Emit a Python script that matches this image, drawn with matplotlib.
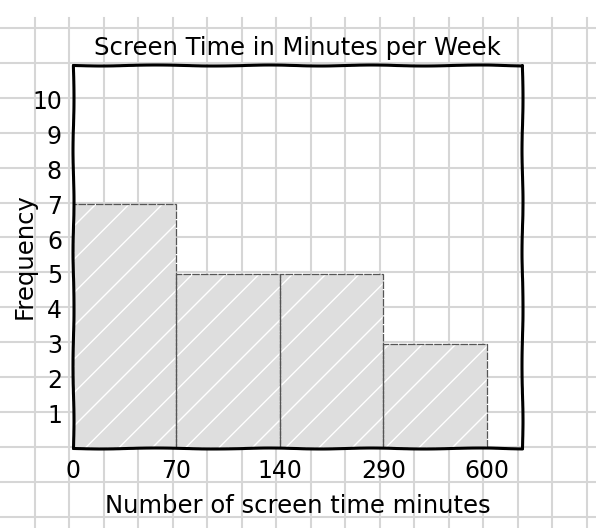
import numpy as np
import matplotlib
matplotlib.use('Agg')
import matplotlib.pyplot as plt

# data: equal-width bins, labelled at their edges
bin_edges = ['0', '70', '140', '290', '600']
frequency = [7, 5, 5, 3]
y_ticks = [1, 2, 3, 4, 5, 6, 7, 8, 9, 10]

plt.rcParams['font.family'] = ['DejaVu Sans']

W, H = 596, 528
fig = plt.figure(figsize=(W / 100, H / 100), dpi=100)

# graph paper background, in pixel units
bg = fig.add_axes([0, 0, 1, 1], zorder=0)
bg.set_xlim(0, W)
bg.set_ylim(H, 0)
bg.axis('off')
grid_top = 18
for x in np.arange(34.5, W, 34.5):
    bg.plot([x, x], [grid_top, H], color='#d6d6d6', lw=1.5)
for y in np.arange(28, H, 34.9):
    bg.plot([0, W], [y, y], color='#d6d6d6', lw=1.5)

# chart area
ax = fig.add_axes([73 / W, 1 - 448 / H, (522 - 73) / W, (448 - 65) / H], zorder=1)
ax.patch.set_alpha(0)
pos = np.arange(len(frequency))
# fill with white hachure, then a thin sketchy outline
ax.bar(pos, frequency, width=1, align='edge', color='#dedede',
       edgecolor='white', linewidth=0, hatch='/')
ax.bar(pos, frequency, width=1, align='edge', fill=False,
       edgecolor='#555555', linewidth=0.9, linestyle=(0, (6, 1)))

ax.set_xlim(0, 4.34)
ax.set_ylim(0, 11)
ax.set_xticks(np.arange(len(bin_edges)))
ax.set_xticklabels(bin_edges)
ax.set_yticks(y_ticks)
ax.tick_params(length=0, labelsize=17, pad=8)

for s in ax.spines.values():
    s.set_linewidth(2.2)
    s.set_color('black')
    s.set_sketch_params(0.5, 120, 2)
    s.set_capstyle('round')

ax.set_title('Screen Time in Minutes per Week', fontsize=17.5, pad=7)
ax.set_xlabel('Number of screen time minutes', fontsize=17.5, labelpad=8)
ax.set_ylabel('Frequency', fontsize=17.5, labelpad=-3)

plt.savefig('out.png', dpi=100)
